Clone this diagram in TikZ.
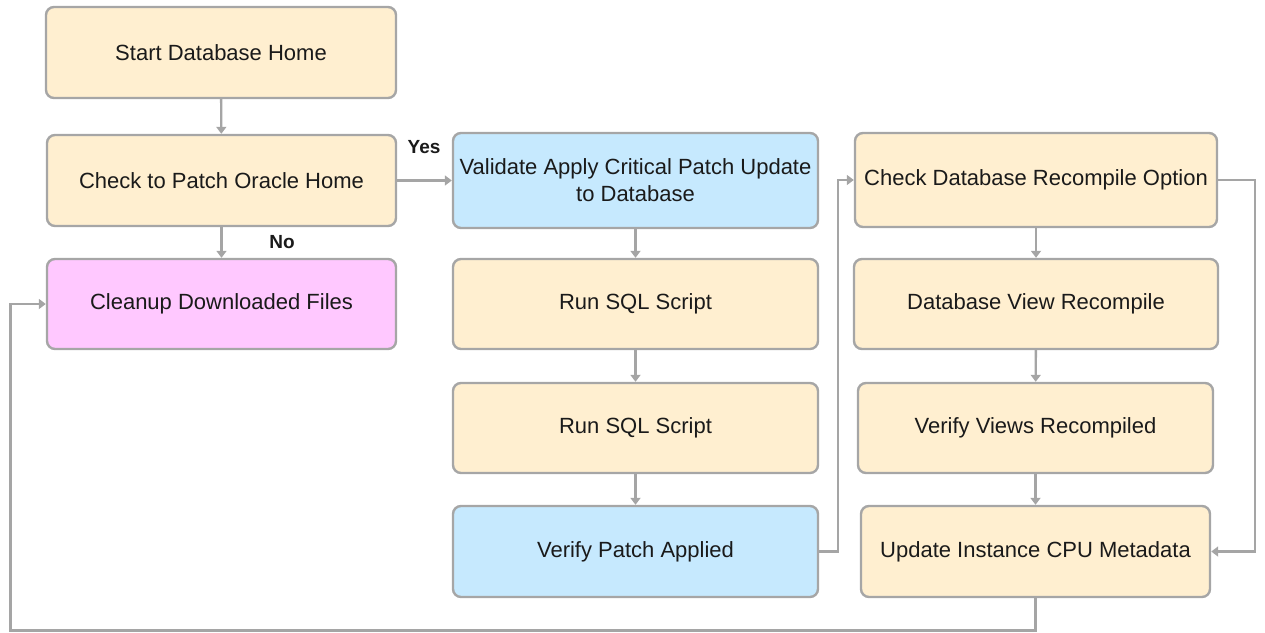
\documentclass[tikz,border=0pt]{standalone}
\usepackage{fontspec}
\setmainfont{Liberation Sans}
\usetikzlibrary{arrows.meta}

\definecolor{beige}{RGB}{255,239,208}
\definecolor{skyblue}{RGB}{198,233,254}
\definecolor{pinkfill}{RGB}{255,200,255}
\definecolor{edgegray}{RGB}{166,166,166}
\definecolor{linkgray}{RGB}{165,165,165}
\definecolor{inkdark}{RGB}{26,26,26}

\tikzset{
  stepbox/.style={draw=edgegray, line width=2.4pt, rounded corners=8pt,
    fill=beige, align=center, text=inkdark, inner sep=0pt,
    font=\fontsize{22}{27}\selectfont},
  bluebox/.style={stepbox, fill=skyblue},
  pinkbox/.style={stepbox, fill=pinkfill},
  link/.style={draw=linkgray, line width=2.4pt,
    -{Triangle[width=10pt,length=7pt]}},
  branch/.style={font=\bfseries\fontsize{19}{22}\selectfont, text=inkdark}
}

\begin{document}
\begin{tikzpicture}[x=1pt,y=-1pt]
\useasboundingbox (0,0) rectangle (1265,632);

% left column
\node[stepbox, minimum width=350pt, minimum height=91pt] (start) at (221,52.5) {Start Database Home};
\node[stepbox, minimum width=349pt, minimum height=91pt] (check) at (221.5,180.5) {Check to Patch Oracle Home};
\node[pinkbox, minimum width=349pt, minimum height=90pt] (cleanup) at (221.5,304) {Cleanup Downloaded Files};

% middle column
\node[bluebox, minimum width=365pt, minimum height=95pt] (validate) at (635.5,180.5) {Validate Apply Critical Patch Update\\to Database};
\node[stepbox, minimum width=365pt, minimum height=90pt] (sqla) at (635.5,304) {Run SQL Script};
\node[stepbox, minimum width=365pt, minimum height=90pt] (sqlb) at (635.5,428) {Run SQL Script};
\node[bluebox, minimum width=365pt, minimum height=91pt] (verify) at (635.5,551.5) {Verify Patch Applied};

% right column
\node[stepbox, minimum width=362pt, minimum height=94pt] (chkdb) at (1036,180) {Check Database Recompile Option};
\node[stepbox, minimum width=364pt, minimum height=90pt] (dbview) at (1036,304) {Database View Recompile};
\node[stepbox, minimum width=355pt, minimum height=90pt] (views) at (1035.5,428) {Verify Views Recompiled};
\node[stepbox, minimum width=349pt, minimum height=91pt] (update) at (1035.5,551.5) {Update Instance CPU Metadata};

% branch labels
\node[branch] (yes) at (424,147) {Yes};
\node[branch] (no) at (282,242) {No};

\coordinate (loopcorner) at (10.5,630.5);

% connectors
\draw[link] (start) -- (check);
\draw[link] (check) -- (cleanup);
\draw[link] (check.east) -- (validate.west |- check.east);
\draw[link] (validate) -- (sqla);
\draw[link] (sqla) -- (sqlb);
\draw[link] (sqlb) -- (verify);
\draw[link] (verify.east) -- ++(19,0) |- (chkdb.west);
\draw[link] (chkdb.east) -- ++(37,0) |- (update.east);
\draw[link] (chkdb) -- (dbview);
\draw[link] (dbview) -- (views);
\draw[link] (views) -- (update);
\draw[link] (update.south) |- (loopcorner) |- (cleanup.west);
\end{tikzpicture}
\end{document}
